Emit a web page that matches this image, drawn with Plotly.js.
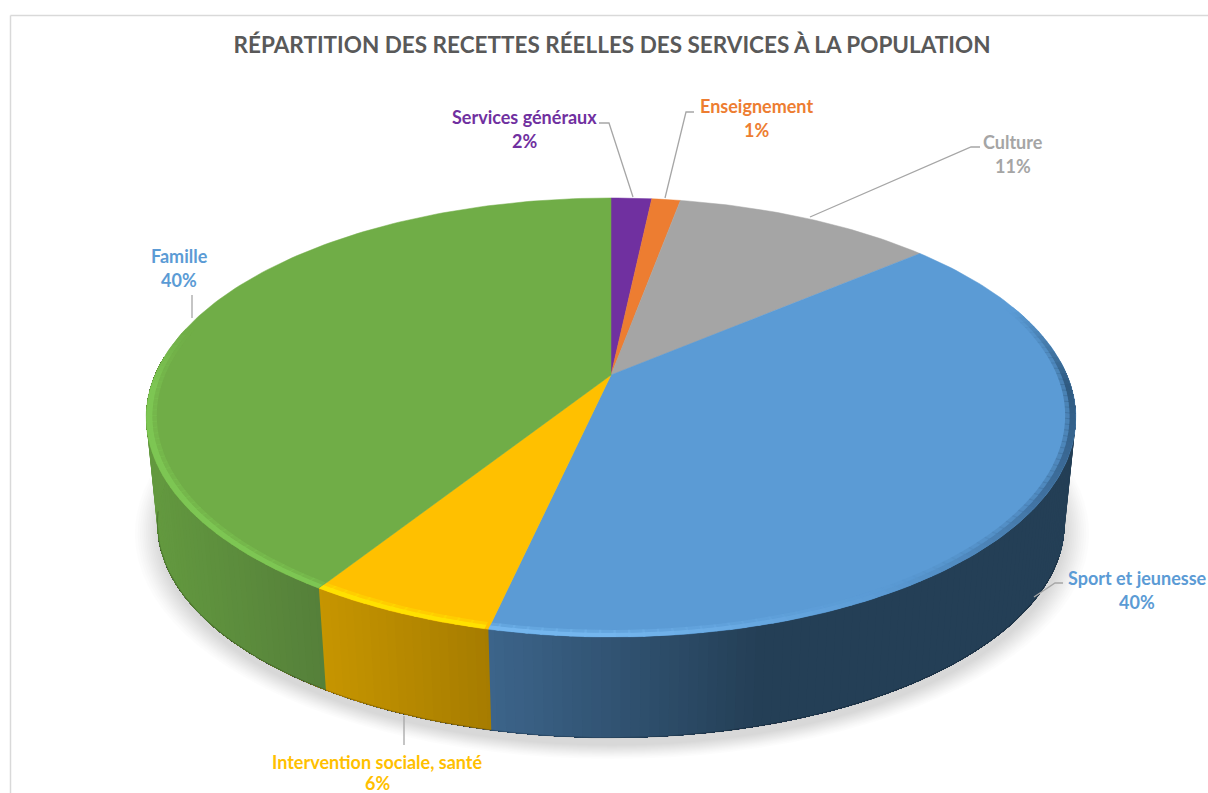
<!DOCTYPE html>
<html lang="fr">
<head>
<meta charset="utf-8">
<script src="https://cdn.plot.ly/plotly-3.0.1.min.js"></script>
<style>
html,body{margin:0;padding:0;background:#fff}
#chart{width:1208px;height:793px}
</style>
</head>
<body>
<div id="chart"></div>
<script>
// ----- Data -----
const categories = ["Services généraux", "Enseignement", "Culture", "Sport et jeunesse", "Intervention sociale, santé", "Famille"];
const shares     = [1.7, 1.2, 10.9, 39.7, 5.5, 41.0];
const shownPct   = ["2%", "1%", "11%", "40%", "6%", "40%"];
const sliceColors = ["#7030A0", "#ED7D31", "#A5A5A5", "#5B9BD5", "#FFC000", "#70AD47"];
const labelColors = ["#7030A0", "#ED7D31", "#A5A5A5", "#5B9BD5", "#FFC000", "#5B9BD5"];
const chartTitle = "RÉPARTITION DES RECETTES RÉELLES DES SERVICES À LA POPULATION";

// ----- Presentation -----
const labelPos = [[524,117,141],[756,106,130],[1013,142,166],[1137,578,602],[377,762,783],[179,256,280]];
const leaderStart = [[599,123],[694,112],[980,147],[1063,583],[404,745],[192,295]];
const leaderKnee  = [[609,123],[686,112],[971,147],[1055,583],null,null];
const leaderEnd   = [[633,197],[665,198],[810,217],[1034,597],[404,716],[192,318]];

// Perspective of the disc: centre of the disc lands at (cx, cy)
const cx=611, cy=375, A=456, B=211.3, K=0.1936;
const wallCy=482, wallScale=0.976;
function disc(theta, r){
  const t=theta*Math.PI/180, u=r*Math.sin(t), v=r*Math.cos(t), d=1+K*v;
  return [A*u/d, B*v/d];
}
const top_=(th,r=1)=>{const p=disc(th,r);return [cx+p[0],cy-p[1]];};
const bot=(th,r=1)=>{const p=disc(th,r);return [cx+wallScale*p[0],wallCy-wallScale*p[1]];};

const total=shares.reduce((a,b)=>a+b,0);
const bounds=[0]; shares.forEach(s=>bounds.push(bounds[bounds.length-1]+s/total*360));

function hex(c){return [1,3,5].map(i=>parseInt(c.substr(i,2),16));}
function mix(c1,c2,t){t=Math.max(0,Math.min(1,t));const a=hex(c1),b=hex(c2);
  return "rgb("+a.map((x,i)=>Math.round(x+(b[i]-x)*t)).join(",")+")";}
const sliceAt=th=>{for(let k=0;k<shares.length;k++) if(th>=bounds[k]&&th<bounds[k+1]) return k;return shares.length-1;};

const traces=[];
// soft shadow under the pie
const shadowSteps=[1.052,1.046,1.041,1.036,1.032,1.028,1.024,1.02,1.016,1.012,1.008,1.004,1.0];
shadowSteps.forEach(s=>{
  const xs=[],ys=[];
  for(let th=0;th<=360;th+=3){const p=disc(th,1);xs.push(cx+1+wallScale*s*p[0]);ys.push(wallCy+8-wallScale*s*p[1]);}
  traces.push({type:"scatter",mode:"none",x:xs,y:ys,fill:"toself",fillcolor:"rgba(0,0,0,0.013)",hoverinfo:"skip",showlegend:false});
});
// side wall: swept from right to left, each pass repainting the rest of the arc so that no seam shows
function wallColor(i,th){
  const x=top_(th)[0];
  if(i===3) return mix("#243F56","#3C648A",(760-x)/270);
  if(i===4) return mix("#C69500","#A67C00",(x-322)/166);
  if(i===5) return mix("#63993F","#55803A",(x-150)/170);
  return mix(sliceColors[i],"#222222",.5);
}
const wallEnd=275, wallBegin=85;
const wallAngles=[];
for(let th=wallBegin;th<wallEnd;th+=1) wallAngles.push(th);
bounds.forEach(b=>{if(b>wallBegin&&b<wallEnd) wallAngles.push(b);});
wallAngles.sort((a,b)=>a-b);
wallAngles.forEach((th,k)=>{
  const next=k+1<wallAngles.length?wallAngles[k+1]:wallEnd;
  const i=sliceAt((th+next)/2);
  const xs=[],ys=[];
  for(let t=th;t<wallEnd;t+=2){const p=top_(t);xs.push(p[0]);ys.push(p[1]);}
  const pe=top_(wallEnd);xs.push(pe[0]);ys.push(pe[1]);
  const pb=bot(wallEnd);xs.push(pb[0]);ys.push(pb[1]);
  for(let t=wallEnd-(wallEnd-th)%2||wallEnd-2;t>th;t-=2){const p=bot(t);xs.push(p[0]);ys.push(p[1]);}
  const ps=bot(th);xs.push(ps[0],xs[0]);ys.push(ps[1],ys[0]);
  traces.push({type:"scatter",mode:"none",x:xs,y:ys,fill:"toself",fillcolor:wallColor(i,(th+next)/2),hoverinfo:"skip",showlegend:false});
});
// dark foot of the wall
{
  const xs=[],ys=[];
  for(let t=110;t<=262;t+=2){const p=bot(t);xs.push(p[0]);ys.push(p[1]);}
  traces.push({type:"scatter",mode:"lines",x:xs,y:ys,line:{color:"rgba(0,0,0,0.18)",width:1.2},hoverinfo:"skip",showlegend:false});
}
// top face slices, from the values
categories.forEach((name,i)=>{
  const xs=[cx],ys=[cy];
  for(let th=bounds[i];th<bounds[i+1];th+=1){const p=top_(th);xs.push(p[0]);ys.push(p[1]);}
  const p=top_(bounds[i+1]);xs.push(p[0],cx);ys.push(p[1],cy);
  traces.push({type:"scatter",mode:"lines",name,x:xs,y:ys,fill:"toself",fillcolor:sliceColors[i],
    line:{color:sliceColors[i],width:0.5},text:name+" "+shownPct[i],hoverinfo:"text",showlegend:false});
});
// bevel on the front edge, as a band that follows the perspective
function rimColor(i,th){
  if(i===3){
    if(th>150) return mix("#5B9BD5","#74B6EE",(th-150)/30);
    if(th>118) return mix("#3E6E9C","#5B9BD5",(th-118)/32);
    if(th>92)  return mix("#2F5A80","#3E6E9C",(th-92)/26);
    return mix("#5B9BD5","#2F5A80",(th-70)/22);
  }
  if(i===4) return "#FFE100";
  if(i===5) return th<266? "#7DC653" : mix("#7DC653","#70AD47",(th-266)/16);
  return sliceColors[i];
}
const rimStep=1.5;
function rimLayer(r0,r1,op){
  for(let th=70;th<282;th+=rimStep){
    const i=sliceAt(th+rimStep/2);
    const s=Math.max(th,bounds[i]), e=Math.min(th+rimStep+.25,bounds[i+1]);
    if(e<=s) continue;
    const a=top_(s,r0),b=top_(e,r0),c=top_(e,r1),d=top_(s,r1);
    traces.push({type:"scatter",mode:"none",x:[a[0],b[0],c[0],d[0],a[0]],y:[a[1],b[1],c[1],d[1],a[1]],
      fill:"toself",fillcolor:rimColor(i,th).replace("rgb(","rgba(").replace(")",","+op+")").replace(/^#.*/,m=>{const h=hex(m);return "rgba("+h.join(",")+","+op+")";}),
      hoverinfo:"skip",showlegend:false});
  }
}
rimLayer(0.978,0.987,0.4);
rimLayer(0.987,1.0,1);
// leader lines
categories.forEach((_,i)=>{
  const pts=[leaderStart[i]];
  if(leaderKnee[i]) pts.push(leaderKnee[i]);
  pts.push(leaderEnd[i]);
  traces.push({type:"scatter",mode:"lines",x:pts.map(p=>p[0]),y:pts.map(p=>p[1]),
    line:{color:"#A6A6A6",width:1.3},hoverinfo:"skip",showlegend:false});
});

const annotations=[];
categories.forEach((name,i)=>{
  const f={family:"Lato, Carlito, sans-serif",size:18,color:labelColors[i]};
  annotations.push({x:labelPos[i][0],y:labelPos[i][1],xref:"x",yref:"y",text:"<b>"+name+"</b>",showarrow:false,font:f,xanchor:"center",yanchor:"middle"});
  annotations.push({x:labelPos[i][0],y:labelPos[i][2],xref:"x",yref:"y",text:"<b>"+shownPct[i]+"</b>",showarrow:false,font:f,xanchor:"center",yanchor:"middle"});
});

const layout={
  width:1208,height:793,margin:{l:0,r:0,t:0,b:0},
  paper_bgcolor:"#fff",plot_bgcolor:"#fff",showlegend:false,
  title:{text:"<b>"+chartTitle+"</b>",x:612/1208,xanchor:"center",y:1-45/793,yanchor:"middle",
    font:{family:"Lato, Carlito, sans-serif",size:22.5,color:"#595959"}},
  xaxis:{range:[0,1208],visible:false,fixedrange:true},
  yaxis:{range:[793,0],visible:false,fixedrange:true},
  annotations,
  shapes:[
    {type:"line",xref:"x",yref:"y",x0:10.5,x1:10.5,y0:15.5,y1:793,line:{color:"#D9D9D9",width:1.5},layer:"below"},
    {type:"line",xref:"x",yref:"y",x0:10.5,x1:1208,y0:15.5,y1:15.5,line:{color:"#D9D9D9",width:1.5},layer:"below"}
  ]
};
Plotly.newPlot("chart",traces,layout,{displayModeBar:false});
</script>
</body>
</html>
